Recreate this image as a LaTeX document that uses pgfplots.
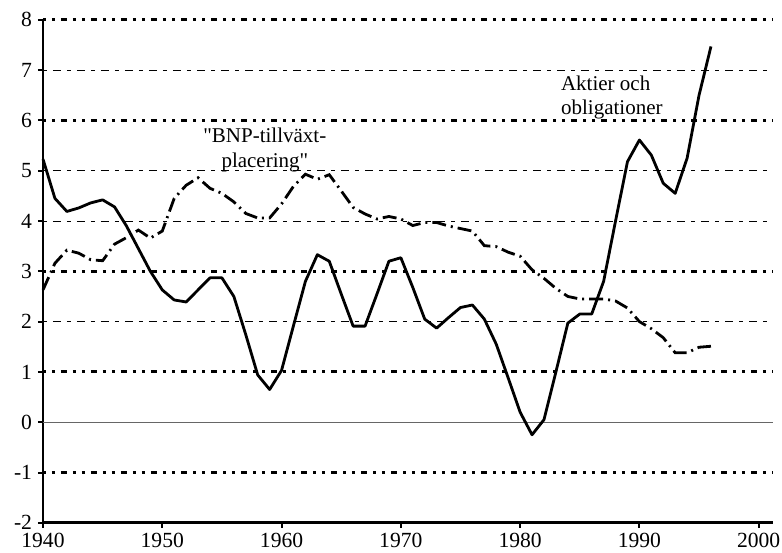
\documentclass[border=0pt]{standalone}
\usepackage{pgfplots}
\pgfplotsset{compat=1.18}
\usepackage{fontspec}
\setmainfont{Liberation Serif}[Ligatures=TeXOff]
\begin{document}
\fontsize{10.5}{13}\selectfont
\begin{tikzpicture}
\tikzset{
  thickgrid/.style={line width=1.5pt, dash pattern=on 1.5pt off 3pt on 1.5pt off 3pt on 3pt off 3pt},
  thingrid/.style={line width=0.4pt, dash pattern=on 2pt off 3pt on 4pt off 3pt},
}
\begin{axis}[
  at={(0,0)}, anchor=south west,
  scale only axis,
  width=365pt, height=251.5pt,
  xmin=1940, xmax=2001.2,
  ymin=-2, ymax=8,
  axis lines*=left,
  axis line style={line width=1.4pt, -},
  xtick={1940,1950,1960,1970,1980,1990,2000},
  xticklabels={1940,1950,1960,1970,1980,1990,2000},
  ytick={-2,-1,0,1,2,3,4,5,6,7,8},
  yticklabels={-2,-1,0,1,2,3,4,5,6,7,8},
  tick align=outside,
  major tick length=2.5pt,
  tick style={line width=1pt, black},
  tick label style={font=\fontsize{10.8}{12}\selectfont, inner sep=0.3pt},
  xticklabel style={yshift=-2pt},
  yticklabel style={xshift=-2.5pt},
  clip=false,
]
% grid lines
\foreach \yy in {8,6,3,1,-1,-2} {
  \edef\tmp{\noexpand\draw[thickgrid] (axis cs:1940,\yy) -- (axis cs:2001.2,\yy);}\tmp
}
\foreach \yy in {7,5,4,2} {
  \edef\tmp{\noexpand\draw[thingrid] (axis cs:1940,\yy) -- (axis cs:2001.2,\yy);}\tmp
}
\draw[line width=0.7pt, gray!80!black] (axis cs:1940,0) -- (axis cs:2001.2,0);

% Aktier och obligationer
\addplot[black, line width=1.4pt, line join=round] coordinates {
(1940,5.23) (1941,4.45) (1942,4.19) (1943,4.26) (1944,4.36) (1945,4.42)
(1946,4.28) (1947,3.9) (1948,3.45) (1949,3.0) (1950,2.63) (1951,2.43)
(1952,2.39) (1953,2.63) (1954,2.87) (1955,2.87) (1956,2.5) (1957,1.74)
(1958,0.94) (1959,0.65) (1960,1.03) (1961,1.92) (1962,2.8) (1963,3.33)
(1964,3.2) (1965,2.55) (1966,1.91) (1967,1.91) (1968,2.55) (1969,3.2)
(1970,3.27) (1971,2.68) (1972,2.05) (1973,1.87) (1974,2.08) (1975,2.28)
(1976,2.33) (1977,2.05) (1978,1.55) (1979,0.88) (1980,0.2) (1981,-0.25)
(1982,0.05) (1983,1.0) (1984,1.97) (1985,2.15) (1986,2.15) (1987,2.8)
(1988,4.0) (1989,5.18) (1990,5.61) (1991,5.31) (1992,4.75) (1993,4.55)
(1994,5.25) (1995,6.5) (1996,7.47)
};

% BNP-tillvaxt-placering
\addplot[black, line width=1.4pt, dash pattern=on 7pt off 2.5pt on 1pt off 2.5pt] coordinates {
(1940,2.63) (1941,3.16) (1942,3.42) (1943,3.36) (1944,3.23) (1945,3.21)
(1946,3.54) (1947,3.67) (1948,3.82) (1949,3.66) (1950,3.8) (1951,4.45)
(1952,4.71) (1953,4.86) (1954,4.65) (1955,4.55) (1956,4.38) (1957,4.15)
(1958,4.06) (1959,4.06) (1960,4.34) (1961,4.69) (1962,4.93) (1963,4.83)
(1964,4.92) (1965,4.6) (1966,4.27) (1967,4.14) (1968,4.04) (1969,4.09)
(1970,4.04) (1971,3.91) (1972,3.97) (1973,3.97) (1974,3.9) (1975,3.85)
(1976,3.8) (1977,3.51) (1978,3.49) (1979,3.38) (1980,3.3) (1981,3.03)
(1982,2.86) (1983,2.66) (1984,2.5) (1985,2.45) (1986,2.45) (1987,2.45)
(1988,2.41) (1989,2.27) (1990,2.0) (1991,1.86) (1992,1.68) (1993,1.38)
(1994,1.38) (1995,1.49) (1996,1.51)
};

\node[align=center, font=\fontsize{10.5}{12.5}\selectfont] at (axis cs:1958.6,5.42) {"BNP-tillväxt-\\placering"};
\node[align=left, anchor=west, font=\fontsize{10.5}{12}\selectfont, inner xsep=0pt] at (axis cs:1983.4,6.46) {Aktier och\\obligationer};
\end{axis}
\pgfresetboundingbox
\path (-21.5pt,-14.6pt) rectangle (369.5pt,261.4pt);
\end{tikzpicture}
\end{document}
